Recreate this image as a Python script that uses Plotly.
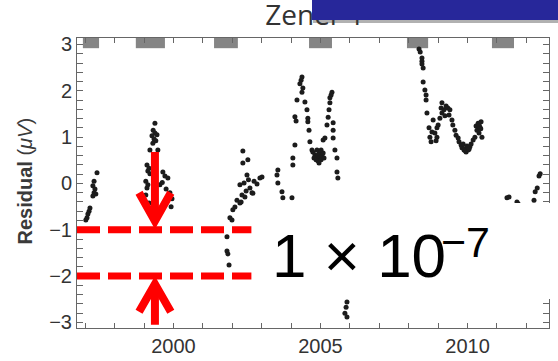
import plotly.graph_objects as go

# ---- data ----
years_1997 = [1997.40, 1997.30, 1997.26, 1997.33, 1997.30, 1997.36, 1997.26, 1997.16, 1997.13, 1997.09, 1997.06, 1997.02]
resid_1997 = [0.23, 0.05, -0.05, -0.12, -0.20, -0.23, -0.27, -0.53, -0.60, -0.66, -0.74, -0.79]

years_1999 = [1999.37, 1999.31, 1999.37, 1999.27, 1999.44, 1999.34, 1999.40, 1999.30, 1999.20, 1999.47,
              1999.10, 1999.17, 1999.13, 1999.20, 1999.64, 1999.71, 1999.81, 1999.06, 1999.13, 1999.88,
              1999.95, 1999.92, 1999.10, 1999.06, 1999.17, 1999.54, 1999.62, 1999.75]
resid_1999 = [1.30, 1.15, 1.09, 1.03, 1.05, 0.96, 0.92, 0.87, 0.72, 0.72,
              0.40, 0.33, 0.27, 0.21, 0.25, 0.16, 0.12, 0.05, -0.03, -0.20,
              -0.33, -0.50, -0.10, -0.25, -0.42, -0.03, 0.02, -0.12]

years_2002 = [2002.36, 2002.36, 2002.53, 2002.50, 2002.26, 2002.40, 2002.94, 2002.84, 2002.74, 2002.60,
              2002.67, 2002.47, 2002.43, 2002.33, 2002.16, 2002.26, 2002.02, 2002.09, 2001.99, 2001.92,
              2001.82, 2001.82, 2001.85, 2001.89, 2003.01, 2002.55, 2002.70, 2002.30]
resid_2002 = [0.70, 0.44, 0.51, 0.18, -0.03, 0.01, 0.12, -0.01, 0.05, -0.10,
              -0.20, -0.16, -0.29, -0.25, -0.36, -0.42, -0.57, -0.51, -0.79, -0.74,
              -1.15, -1.46, -1.52, -1.76, 0.14, 0.08, -0.21, -0.40]

years_2004 = [2003.55, 2003.52, 2003.55, 2003.69, 2003.72, 2004.03,
              2004.13, 2004.06, 2004.06, 2004.20, 2004.13, 2004.17,
              2004.37, 2004.34, 2004.30, 2004.40, 2004.37, 2004.47, 2004.54, 2004.57, 2004.57, 2004.61, 2004.64, 2004.71,
              2004.74, 2004.81, 2004.88, 2004.78, 2004.95, 2004.98, 2005.05, 2004.85, 2004.91, 2005.02, 2005.12, 2005.09, 2004.95, 2004.88, 2005.02,
              2005.09, 2005.15, 2005.22, 2005.26, 2005.29, 2005.32, 2005.32, 2005.39, 2005.36,
              2005.43, 2005.43, 2005.43, 2005.49, 2005.56, 2005.56, 2005.59,
              2005.90, 2005.87, 2005.83, 2005.90]
resid_2004 = [0.29, 0.18, 0.01, -0.18, -0.31, -0.31,
              0.83, 0.55, 0.40, 1.80, 1.44, 1.35,
              2.30, 2.23, 2.15, 2.06, 1.97, 1.76, 1.59, 1.41, 1.33, 1.15, 0.90, 0.72,
              0.68, 0.62, 0.57, 0.55, 0.64, 0.55, 0.59, 0.51, 0.49, 0.51, 0.55, 0.66, 0.44, 0.72, 0.72,
              0.94, 0.98, 1.26, 1.43, 1.59, 1.74, 1.85, 1.97, 1.91,
              1.31, 1.15, 0.98, 0.72, 0.55, 0.25, 0.12,
              -2.56, -2.67, -2.80, -2.88]

years_2008 = [2008.35, 2008.39, 2008.45, 2008.45, 2008.45, 2008.49, 2008.49, 2008.55, 2008.59, 2008.59,
              2008.62, 2008.69, 2008.72, 2008.76, 2008.79, 2008.83, 2008.96, 2008.89, 2008.96, 2008.93,
              2009.00, 2009.06, 2009.13, 2009.10, 2009.13, 2009.20, 2009.27, 2009.33, 2009.40, 2009.23, 2009.37,
              2009.47, 2009.50, 2009.57, 2009.61, 2009.68, 2009.71, 2009.78, 2009.81, 2009.88, 2009.95,
              2010.02, 2009.85, 2009.98, 2010.08, 2010.12, 2010.19,
              2010.25, 2010.29, 2010.36, 2010.32, 2010.43, 2010.46, 2010.39, 2010.49,
              2009.90, 2009.93, 2010.00, 2010.05, 2010.40, 2010.45]
resid_2008 = [2.90, 2.84, 2.71, 2.64, 2.58, 2.49, 2.19, 2.02, 1.91, 1.80,
              1.52, 1.20, 1.00, 0.90, 1.11, 1.37, 1.20, 1.09, 1.00, 0.92,
              1.26, 1.41, 1.52, 1.63, 1.74, 1.59, 1.67, 1.63, 1.59, 1.46, 1.48,
              1.37, 1.26, 1.15, 1.04, 0.98, 0.90, 0.83, 0.77, 0.72, 0.68,
              0.72, 0.85, 0.81, 0.79, 0.85, 0.94,
              1.00, 1.24, 1.30, 1.15, 1.20, 1.33, 1.09, 1.00,
              0.75, 0.70, 0.78, 0.74, 1.25, 1.18]

years_2011 = [2011.34, 2011.41, 2011.68, 2011.72, 2012.26, 2012.30, 2012.37, 2012.43, 2012.47]
resid_2011 = [-0.31, -0.29, -0.40, -0.44, -0.36, -0.18, -0.10, 0.16, 0.21]

# grey period bars along the top edge
bar_start = [1996.92, 1998.72, 2001.38, 2004.61, 2007.94, 2010.83]
bar_end = [1997.47, 1999.71, 2002.19, 2005.39, 2008.66, 2011.58]

x_ticks = list(range(1997, 2013))
x_labels = [str(y) if y % 5 == 0 else "" for y in x_ticks]

x_range = [1996.72, 2012.77]
y_range = [-3.12, 3.14]

title_text = "Zener 1"
title_year = 2004.81

# highlighted band (the 1e-7 step) and arrow location
band_levels = [-1, -2]
band_end_year = 2002.65
arrow_year = 1999.37

years = years_1997 + years_1999 + years_2002 + years_2004 + years_2008 + years_2011
resid = resid_1997 + resid_1999 + resid_2002 + resid_2004 + resid_2008 + resid_2011

fig = go.Figure()
fig.add_trace(go.Scatter(x=years, y=resid, mode="markers",
                         marker=dict(size=5, color="#1c1c1c", line=dict(width=0)),
                         hoverinfo="skip"))
# carrier for the top axis that holds the title (so the banner can overlap it)
fig.add_trace(go.Scatter(x=[None], y=[None], xaxis="x2", mode="markers", hoverinfo="skip", showlegend=False))

shapes = []
for s, e in zip(bar_start, bar_end):
    shapes.append(dict(type="rect", xref="x", yref="y", x0=s, x1=e, y0=2.92, y1=y_range[1],
                       fillcolor="#858585", line=dict(width=0), layer="below"))
for lv in band_levels:
    shapes.append(dict(type="line", xref="x", yref="y", x0=x_range[0], x1=band_end_year, y0=lv, y1=lv,
                       line=dict(color="#ff0000", width=7, dash="23px,8px"), layer="above"))

red = dict(color="#ff0000", width=8)
dx = 0.54
# down arrow (to the -1 line)
tip_d, arm_d, top_d = -0.81, -0.20, 0.68
shapes.append(dict(type="line", xref="x", yref="y", x0=arrow_year, x1=arrow_year, y0=top_d, y1=tip_d,
                   line=red, layer="above"))
shapes.append(dict(type="path", xref="x", yref="y",
                   path=f"M {arrow_year-dx},{arm_d} L {arrow_year},{tip_d} L {arrow_year+dx},{arm_d}",
                   line=red, layer="above"))
# up arrow (to the -2 line)
tip_u, arm_u, bot_u = -2.17, -2.77, -3.05
shapes.append(dict(type="line", xref="x", yref="y", x0=arrow_year, x1=arrow_year, y0=bot_u, y1=tip_u,
                   line=red, layer="above"))
shapes.append(dict(type="path", xref="x", yref="y",
                   path=f"M {arrow_year-dx},{arm_u} L {arrow_year},{tip_u} L {arrow_year+dx},{arm_u}",
                   line=red, layer="above"))

# banner shadow + blue banner at the top, white panel behind the big label (pixel-sized)
shapes.append(dict(type="rect", xref="paper", yref="paper", xsizemode="pixel", ysizemode="pixel",
                   xanchor=0.4979, yanchor=1.0, x0=1, x1=300, y0=15, y1=50,
                   fillcolor="rgba(60,60,60,0.40)", line=dict(width=0), layer="above"))
shapes.append(dict(type="rect", xref="paper", yref="paper", xsizemode="pixel", ysizemode="pixel",
                   xanchor=0.4979, yanchor=1.0, x0=0, x1=300, y0=18, y1=50,
                   fillcolor="#27279a", line=dict(width=0), layer="above"))
shapes.append(dict(type="rect", xref="paper", yref="paper", xsizemode="pixel", ysizemode="pixel",
                   xanchor=0.3708, yanchor=0.431, x0=0, x1=330, y0=-96, y1=0,
                   fillcolor="#ffffff", line=dict(width=0), layer="above"))

tickfont = dict(family="Liberation Sans, Arial, sans-serif", size=20, color="#333333")

annotations = [
    # big label
    dict(text="1 × 10", xref="paper", yref="paper", x=0.4089, y=0.25,
         xanchor="left", yanchor="middle", showarrow=False,
         font=dict(family="Liberation Sans, Arial, sans-serif", size=62, color="#000000")),
    dict(text="−7", xref="paper", yref="paper", x=0.767, y=0.2966,
         xanchor="left", yanchor="middle", showarrow=False,
         font=dict(family="Liberation Sans, Arial, sans-serif", size=43, color="#000000")),
    # y-axis title
    dict(text="<b>Residual</b> (<i>μV</i>)", xref="paper", yref="paper", x=-0.1102, y=0.5086,
         xanchor="center", yanchor="middle", textangle=-90, showarrow=False,
         font=dict(family="Liberation Sans, Arial, sans-serif", size=20, color="#3a3a3a")),
]

fig.update_layout(
    width=558, height=361,
    margin=dict(l=77, r=9, t=38, b=33, autoexpand=False),
    paper_bgcolor="#ffffff", plot_bgcolor="#ffffff",
    showlegend=False,
    shapes=shapes,
    annotations=annotations,
    xaxis=dict(range=x_range, tickmode="array", tickvals=x_ticks, ticktext=x_labels, automargin=False,
               ticks="inside", ticklen=5, tickcolor="#666666", showline=True, linecolor="#666666",
               linewidth=1, mirror="allticks", showgrid=False, zeroline=False, tickfont=tickfont),
    xaxis2=dict(overlaying="x", side="top", range=x_range, tickmode="array", automargin=False,
                tickvals=[title_year], ticktext=[title_text], ticks="", showline=False,
                showgrid=False, zeroline=False, ticklabelstandoff=6,
                tickfont=dict(family="Open Sans, sans-serif", size=28, color="#333333")),
    yaxis=dict(range=y_range, tick0=0, dtick=1, ticks="inside", ticklen=6, tickcolor="#666666",
               automargin=False,
               minor=dict(dtick=0.2, ticks="inside", ticklen=3, tickcolor="#666666", showgrid=False),
               showline=True, linecolor="#666666", linewidth=1, mirror="allticks",
               showgrid=False, zeroline=False, tickfont=tickfont),
)

fig.write_html(
    "out.html",
    config={"displayModeBar": False},
    post_script="document.documentElement.style.overflow='hidden';document.body.style.overflow='hidden';document.body.style.margin='0';",
)
